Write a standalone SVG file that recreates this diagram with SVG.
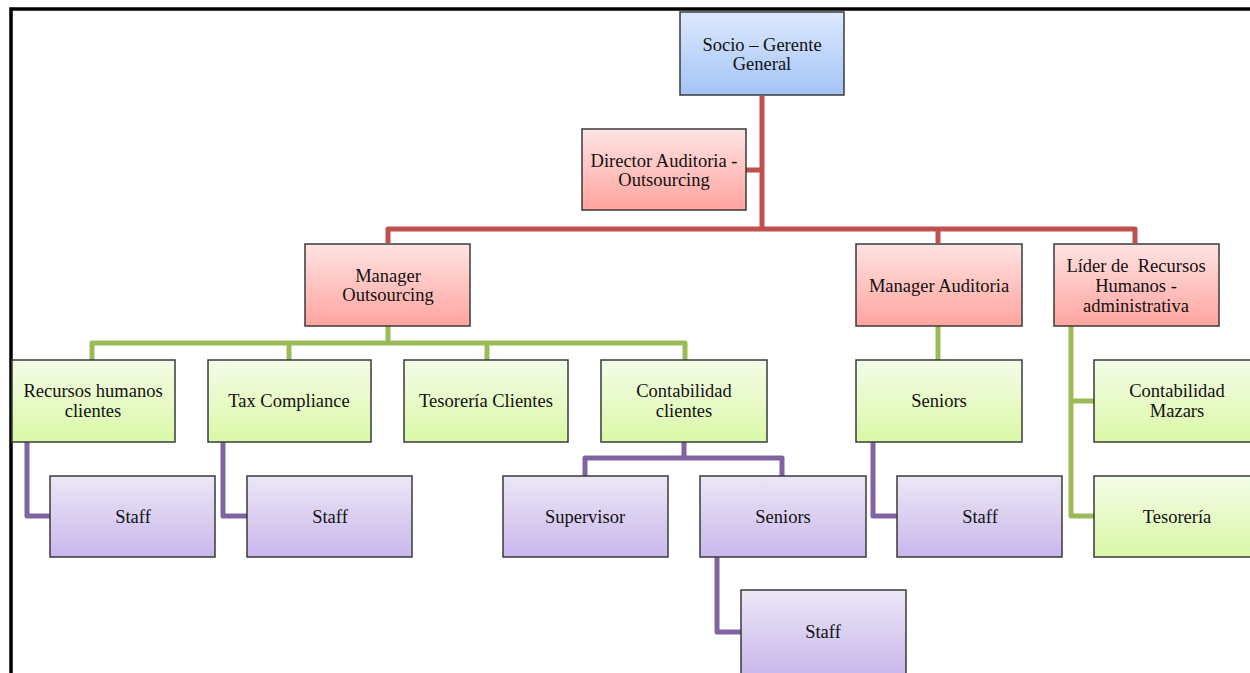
<svg xmlns="http://www.w3.org/2000/svg" width="1250" height="673" viewBox="0 0 1250 673">
<defs>
<linearGradient id="gb" x1="0" y1="0" x2="0" y2="1"><stop offset="0" stop-color="#dde9fd"/><stop offset="1" stop-color="#a3c3f6"/></linearGradient>
<linearGradient id="gr" x1="0" y1="0" x2="0" y2="1"><stop offset="0" stop-color="#ffe3e3"/><stop offset="1" stop-color="#ffa49f"/></linearGradient>
<linearGradient id="gg" x1="0" y1="0" x2="0" y2="1"><stop offset="0" stop-color="#f4fce8"/><stop offset="1" stop-color="#daf8a6"/></linearGradient>
<linearGradient id="gp" x1="0" y1="0" x2="0" y2="1"><stop offset="0" stop-color="#ece7f6"/><stop offset="1" stop-color="#c9b7ec"/></linearGradient>
<style>
.n{stroke:#3a3a3a;stroke-width:1.5}
.b{fill:url(#gb)}.r{fill:url(#gr)}.g{fill:url(#gg)}.p{fill:url(#gp)}
text{font-family:"Liberation Serif","DejaVu Serif",serif;font-size:18.5px;fill:#111;text-anchor:middle;white-space:pre}
.c{fill:none;stroke-width:5;stroke-linejoin:round}
.cr{stroke:#c0504d}.cg{stroke:#9bbb59}.cp{stroke:#8064a2}
</style>
</defs>
<rect width="1250" height="673" fill="#fff"/>
<path d="M11,673 V9 H1250" fill="none" stroke="#000" stroke-width="3.5"/>
<g id="connectors">
<path class="c cr" d="M762,96 V229 M746,170 H762 M388,243 V229 H1135 V243 M938,229 V243"/>
<path class="c cg" d="M388,326 V343 M92,360 V343 H685 V360 M289,343 V360 M487,343 V360 M938,326 V360 M1071,326 V516 H1094 M1071,401 H1094"/>
<path class="c cp" d="M27,442 V516 H50 M223,442 V516 H247 M684,442 V458 M585,476 V458 H782 V476 M717,557 V632 H741 M873,442 V516 H897"/>
</g>
<g id="socio"><rect class="n b" x="680" y="12" width="164" height="83"/><text x="762" y="51">Socio – Gerente</text><text x="762" y="70">General</text></g>
<g id="director"><rect class="n r" x="582" y="129" width="164" height="81"/><text x="664" y="167">Director Auditoria -</text><text x="664" y="186">Outsourcing</text></g>
<g id="manager-outsourcing"><rect class="n r" x="305" y="244" width="165" height="82"/><text x="388" y="282">Manager</text><text x="388" y="301">Outsourcing</text></g>
<g id="manager-auditoria"><rect class="n r" x="856" y="244" width="166" height="82"/><text x="939" y="292">Manager Auditoria</text></g>
<g id="lider"><rect class="n r" x="1054" y="244" width="165" height="82"/><text x="1136" y="272">Líder de  Recursos</text><text x="1136" y="292">Humanos -</text><text x="1136" y="312">administrativa</text></g>
<g id="recursos-clientes"><rect class="n g" x="12" y="360" width="163" height="82"/><text x="93" y="397">Recursos humanos</text><text x="93" y="417">clientes</text></g>
<g id="tax"><rect class="n g" x="208" y="360" width="163" height="82"/><text x="289" y="407">Tax Compliance</text></g>
<g id="tesoreria-clientes"><rect class="n g" x="404" y="360" width="164" height="82"/><text x="486" y="407">Tesorería Clientes</text></g>
<g id="contabilidad-clientes"><rect class="n g" x="601" y="360" width="166" height="82"/><text x="684" y="397">Contabilidad</text><text x="684" y="417">clientes</text></g>
<g id="seniors-auditoria"><rect class="n g" x="856" y="360" width="166" height="82"/><text x="939" y="407">Seniors</text></g>
<g id="contabilidad-mazars"><rect class="n g" x="1094" y="360" width="160" height="82"/><text x="1177" y="397">Contabilidad</text><text x="1177" y="417">Mazars</text></g>
<g id="tesoreria"><rect class="n g" x="1094" y="476" width="160" height="81"/><text x="1177" y="523">Tesorería</text></g>
<g id="staff1"><rect class="n p" x="50" y="476" width="165" height="81"/><text x="133" y="523">Staff</text></g>
<g id="staff2"><rect class="n p" x="247" y="476" width="165" height="81"/><text x="330" y="523">Staff</text></g>
<g id="supervisor"><rect class="n p" x="503" y="476" width="165" height="81"/><text x="585" y="523">Supervisor</text></g>
<g id="seniors-contab"><rect class="n p" x="700" y="476" width="166" height="81"/><text x="783" y="523">Seniors</text></g>
<g id="staff-auditoria"><rect class="n p" x="897" y="476" width="165" height="81"/><text x="980" y="523">Staff</text></g>
<g id="staff-seniors"><rect class="n p" x="741" y="590" width="165" height="85"/><text x="823" y="638">Staff</text></g>
</svg>
